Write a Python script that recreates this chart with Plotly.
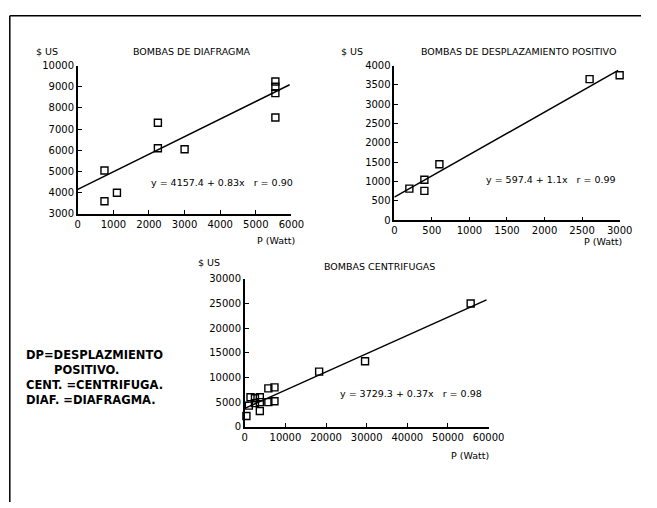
import plotly.graph_objects as go

W, H = 657, 508

# ---- data ----
diaf_p = [750, 750, 1100, 2250, 2250, 3000, 5550, 5550, 5550, 5550]
diaf_c = [5050, 3600, 4000, 7300, 6100, 6050, 9250, 9000, 8700, 7550]
diaf_fit = (4157.4, 0.83)
diaf_line_x = [0, 5950]

dp_p = [200, 400, 400, 600, 2600, 3000]
dp_c = [820, 1050, 760, 1450, 3650, 3750]
dp_fit = (597.4, 1.1)
dp_line_x = [0, 2980]

cent_p = [400, 1400, 2500, 3700, 3700, 3700, 5800, 7300, 5800, 7300, 1000, 2500, 18300, 29600, 55600]
cent_c = [2200, 6000, 5800, 6000, 5000, 3200, 7800, 8000, 5000, 5200, 4300, 4800, 11200, 13300, 25000]
cent_fit = (3729.3, 0.37)
cent_line_x = [0, 59500]

diaf_xticks = [0, 1000, 2000, 3000, 4000, 5000, 6000]
diaf_yticks = [3000, 4000, 5000, 6000, 7000, 8000, 9000, 10000]
dp_xticks = [0, 500, 1000, 1500, 2000, 2500, 3000]
dp_yticks = [0, 500, 1000, 1500, 2000, 2500, 3000, 3500, 4000]
cent_xticks = [0, 10000, 20000, 30000, 40000, 50000, 60000]
cent_yticks = [0, 5000, 10000, 15000, 20000, 25000, 30000]

titles = ["BOMBAS DE DIAFRAGMA", "BOMBAS DE DESPLAZAMIENTO POSITIVO", "BOMBAS CENTRIFUGAS"]
equations = ["y = 4157.4 + 0.83x\u00a0\u00a0\u00a0r = 0.90",
             "y = 597.4 + 1.1x\u00a0\u00a0\u00a0r = 0.99",
             "y = 3729.3 + 0.37x\u00a0\u00a0\u00a0r = 0.98"]
ylab = "$ US"
xlab = "P (Watt)"
legend_lines = ["DP=DESPLAZMIENTO", "POSITIVO.", "CENT. =CENTRIFUGA.", "DIAF. =DIAFRAGMA."]

FONT = "DejaVu Sans"


def px(x):
    return x / W


def py(y):
    return 1 - y / H


fig = go.Figure()

panels = [
    (diaf_p, diaf_c, diaf_fit, diaf_line_x, "x", "y"),
    (dp_p, dp_c, dp_fit, dp_line_x, "x2", "y2"),
    (cent_p, cent_c, cent_fit, cent_line_x, "x3", "y3"),
]
for xs, ys, (a, b), lx, xa, ya in panels:
    fig.add_trace(go.Scatter(x=lx, y=[a + b * v for v in lx], mode="lines",
                             line=dict(color="black", width=1.5),
                             xaxis=xa, yaxis=ya, showlegend=False, hoverinfo="skip"))
    fig.add_trace(go.Scatter(x=xs, y=ys, mode="markers",
                             marker=dict(symbol="square-open", size=7, color="black",
                                         line=dict(width=1.4, color="black")),
                             xaxis=xa, yaxis=ya, showlegend=False, cliponaxis=False))

axis_common = dict(showline=True, linecolor="black", linewidth=1.5, ticks="inside",
                   ticklen=4, tickwidth=1.2, tickcolor="black", showgrid=False,
                   zeroline=False, tickfont=dict(family=FONT, size=10, color="black"),
                   fixedrange=True)


def ax(domain, rng, ticks, anchor):
    return dict(domain=domain, range=rng, tickvals=ticks,
                ticktext=[str(t) for t in ticks], anchor=anchor, **axis_common)


fig.update_layout(
    width=W, height=H, margin=dict(l=0, r=0, t=0, b=0),
    paper_bgcolor="white", plot_bgcolor="white",
    xaxis=ax([px(77), px(297)], [0, 6000], diaf_xticks, "y"),
    yaxis=ax([py(213), py(61)], [3000, 10000], diaf_yticks, "x"),
    xaxis2=ax([px(403), px(635)], [0, 3000], dp_xticks, "y2"),
    yaxis2=ax([py(219.5), py(61)], [0, 4000], dp_yticks, "x2"),
    xaxis3=ax([px(249), px(500)], [0, 60000], cent_xticks, "y3"),
    yaxis3=ax([py(431), py(279.5)], [0, 30000], cent_yticks, "x3"),
)

ann = []


def text(t, x, y, size=9.5, xanchor="center", family=FONT, bold=False):
    ann.append(dict(text=("<b>%s</b>" % t) if bold else t, x=px(x), y=py(y),
                    xref="paper", yref="paper", xanchor=xanchor, yanchor="middle",
                    showarrow=False, font=dict(family=family, size=size, color="black")))


# panel 1
text(ylab, 45, 47)
text(titles[0], 195, 47)
text(equations[0], 150, 181, xanchor="left")
text(xlab, 281, 240)
# panel 2
text(ylab, 359, 47)
text(titles[1], 531, 47)
text(equations[1], 495, 178, xanchor="left")
text(xlab, 618, 241)
# panel 3
text(ylab, 212, 263)
text(titles[2], 388, 267)
text(equations[2], 345, 397, xanchor="left")
text(xlab, 481, 460)

# legend block
text(legend_lines[0], 22, 357, size=11.5, xanchor="left", bold=True)
text(legend_lines[1], 50, 372.5, size=11.5, xanchor="left", bold=True)
text(legend_lines[2], 22, 388, size=11.5, xanchor="left", bold=True)
text(legend_lines[3], 22, 403.5, size=11.5, xanchor="left", bold=True)

fig.update_layout(annotations=ann)

# page frame (scanned box)
fig.add_shape(type="line", xref="paper", yref="paper", x0=px(7), x1=1, y0=py(10), y1=py(10),
              line=dict(color="black", width=1.5))
fig.add_shape(type="line", xref="paper", yref="paper", x0=px(7), x1=px(7), y0=py(10), y1=0,
              line=dict(color="black", width=1.5))

fig.write_html("out.html")
